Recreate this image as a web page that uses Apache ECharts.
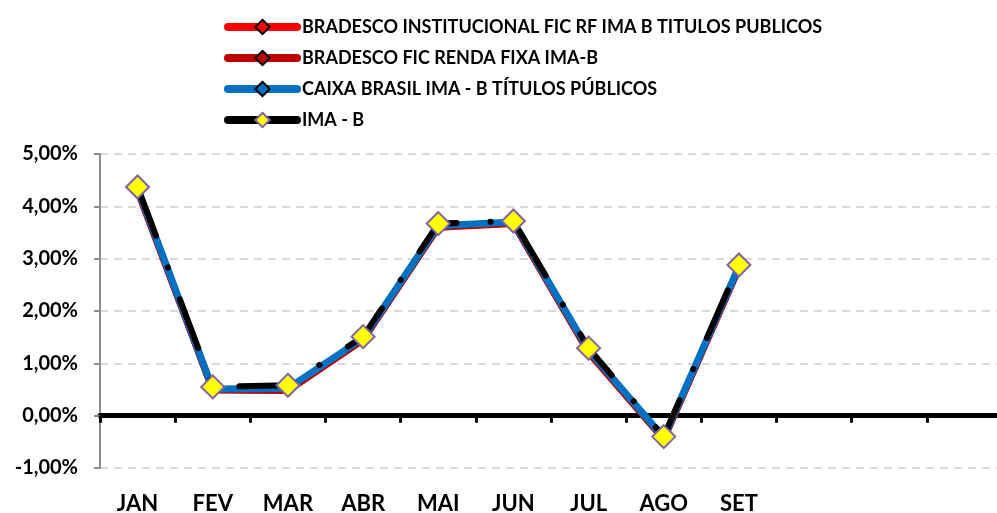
<!DOCTYPE html>
<html lang="pt">
<head>
    <meta charset="UTF-8">
    <script src="https://cdnjs.cloudflare.com/ajax/libs/echarts/6.0.0/echarts.min.js"></script>
    <title>IMA-B</title>
    <style>
        html, body { margin: 0; padding: 0; background: #fff; }
    </style>
</head>
<body>

<div id="chart" style="width: 997px;height: 513px"></div>

<script type="text/javascript">
    // meses (os tres ultimos sem rotulo)
    var meses = ['JAN', 'FEV', 'MAR', 'ABR', 'MAI', 'JUN', 'JUL', 'AGO', 'SET', '', '', '']

    // rentabilidade mensal em %
    var bradescoInst = [4.31, 0.50, 0.49, 1.46, 3.61, 3.68, 1.22, -0.44, 2.83]
    var bradescoFic = [4.30, 0.49, 0.48, 1.45, 3.60, 3.67, 1.21, -0.45, 2.82]
    var caixa = [4.34, 0.51, 0.52, 1.48, 3.63, 3.70, 1.25, -0.42, 2.85]
    var imaB = [4.37, 0.55, 0.58, 1.51, 3.67, 3.72, 1.29, -0.40, 2.88]

    var nomes = [
        'BRADESCO INSTITUCIONAL FIC RF IMA B TITULOS PUBLICOS',
        'BRADESCO FIC RENDA FIXA IMA-B',
        'CAIXA BRASIL IMA - B TÍTULOS PÚBLICOS',
        'IMA - B'
    ]

    var fonte = 'Lato, "Open Sans", sans-serif'

    var myChart = echarts.init(document.getElementById('chart'));

    function serie(nome, dados, cor, largura) {
        return {
            name: nome,
            type: 'line',
            data: dados,
            symbol: 'diamond',
            symbolSize: 10,
            itemStyle: { color: cor, borderColor: '#000', borderWidth: 2 },
            lineStyle: { color: cor, width: largura, cap: 'round', join: 'round' },
            emphasis: { disabled: true }
        }
    }

    var iconeLegenda = { type: 'solid', width: 8, cap: 'round' }

    var option = {
        animation: false,
        legend: {
            orient: 'vertical',
            left: 219,
            top: 13,
            itemWidth: 69,
            itemHeight: 18,
            itemGap: 13,
            textStyle: { fontFamily: fonte, fontWeight: 'bold', fontSize: 18, color: '#000' },
            data: [
                { name: nomes[0], lineStyle: iconeLegenda },
                { name: nomes[1], lineStyle: iconeLegenda },
                { name: nomes[2], lineStyle: iconeLegenda },
                { name: nomes[3], lineStyle: iconeLegenda }
            ]
        },
        grid: {
            left: 100,
            top: 154,
            width: 902,
            height: 314,
            outerBoundsMode: 'none',
            containLabel: false
        },
        xAxis: [{
            type: 'category',
            data: meses,
            boundaryGap: true,
            axisLine: { onZero: true, lineStyle: { color: '#000', width: 5 } },
            axisTick: { show: true, length: 7, lineStyle: { color: '#000', width: 3 } },
            axisLabel: { show: false },
            splitLine: { show: false }
        }, {
            type: 'category',
            data: meses,
            position: 'bottom',
            boundaryGap: true,
            axisLine: { show: false, onZero: false },
            axisTick: { show: false },
            axisLabel: {
                margin: 25,
                fontFamily: fonte, fontWeight: 'bold', fontSize: 22, color: '#000'
            }
        }],
        yAxis: {
            type: 'value',
            min: -1,
            max: 5,
            interval: 1,
            axisLine: { show: true, lineStyle: { color: '#8c8c8c', width: 2 } },
            axisTick: { show: true, length: 6, lineStyle: { color: '#8c8c8c', width: 2 } },
            axisLabel: {
                margin: 22,
                fontFamily: fonte, fontWeight: 'bold', fontSize: 20, color: '#000',
                formatter: function (v) { return v.toFixed(2).replace('.', ',') + '%' }
            },
            splitLine: { show: true, lineStyle: { color: '#d9d9d9', width: 2, type: [8, 6] } }
        },
        series: [
            serie(nomes[0], bradescoInst, '#ff0000', 7),
            serie(nomes[1], bradescoFic, '#c00000', 7),
            serie(nomes[2], caixa, '#0070c0', 7),
            {
                name: nomes[3],
                type: 'line',
                data: imaB,
                symbol: 'diamond',
                symbolSize: 23,
                itemStyle: { color: '#ffff00', borderColor: '#8064a2', borderWidth: 2 },
                lineStyle: { color: '#000', width: 6, type: [52, 34, 0.1, 34], cap: 'round', join: 'round' },
                emphasis: { disabled: true },
                z: 5
            }
        ]
    };
    myChart.setOption(option);
</script>
</body>
</html>
